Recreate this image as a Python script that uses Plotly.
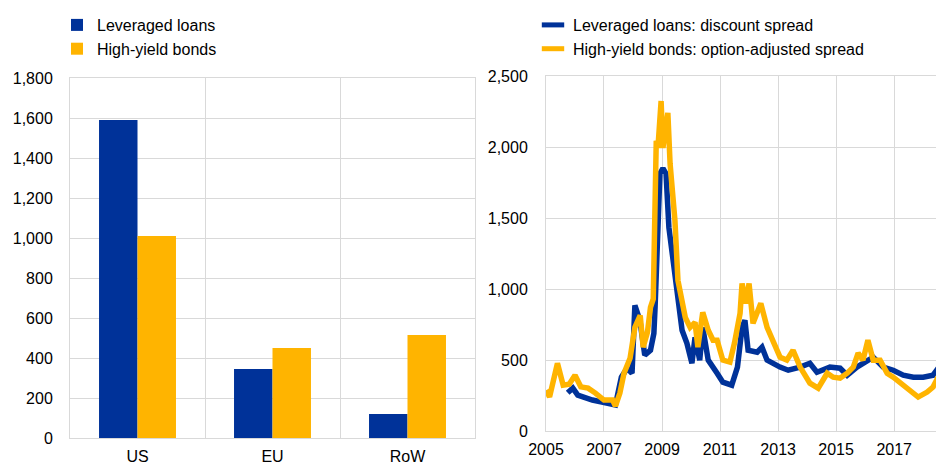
import plotly.graph_objects as go

# left panel: outstanding amounts by region
regions = ['US', 'EU', 'RoW']
loans_amt = [1590, 345, 120]
bonds_amt = [1010, 450, 515]

# right panel: spreads (basis points)
loan_dates = ['2005-10-01', '2005-12-05', '2006-02-05', '2006-05-08', '2006-08-08', '2006-12-05',
              '2007-05-25', '2007-08-08', '2007-10-20', '2007-12-20', '2008-01-25', '2008-03-28',
              '2008-05-28', '2008-08-08', '2008-09-20', '2008-10-05', '2008-11-10', '2008-12-05',
              '2009-01-12', '2009-02-20', '2009-03-28', '2009-06-12', '2009-07-20', '2009-09-10',
              '2009-11-10', '2010-01-12', '2010-02-20', '2010-04-20', '2010-05-28', '2010-08-05',
              '2010-11-25', '2011-02-05', '2011-05-28', '2011-08-08', '2011-10-05', '2011-11-10',
              '2011-12-20', '2012-04-12', '2012-06-12', '2012-08-15', '2013-01-25', '2013-05-08',
              '2013-10-05', '2014-02-05', '2014-05-05', '2014-10-15', '2015-02-20', '2015-05-20',
              '2015-09-20', '2016-01-25', '2016-04-12', '2016-08-15', '2016-12-20', '2017-04-25',
              '2017-08-30', '2018-01-01', '2018-05-05', '2018-07-08', '2018-09-20']
loan_spread = [269, 302, 253, 232, 218, 204,
               183, 379, 442, 407, 885, 779,
               534, 569, 688, 871, 1573, 1812,
               1850, 1812, 1433, 1100, 969, 709,
               618, 477, 660, 499, 730, 499,
               407, 344, 323, 450, 730, 779,
               569, 555, 590, 499, 450, 428,
               450, 477, 414, 450, 442, 393,
               450, 499, 520, 450, 428, 393,
               379, 379, 393, 442, 414]

bond_dates = ['2005-01-03', '2005-02-15', '2005-05-25', '2005-08-05', '2005-10-20', '2006-01-01',
              '2006-03-15', '2006-06-15', '2006-09-15', '2007-01-01', '2007-04-20', '2007-05-25',
              '2007-07-20', '2007-09-10', '2007-11-25', '2008-01-25', '2008-04-01', '2008-05-08',
              '2008-07-01', '2008-08-08', '2008-09-12', '2008-10-05', '2008-10-20', '2008-11-10',
              '2008-12-20', '2009-01-12', '2009-03-15', '2009-04-12', '2009-06-12', '2009-07-20',
              '2009-10-20', '2009-12-20', '2010-02-20', '2010-03-28', '2010-05-28', '2010-08-05',
              '2010-10-05', '2010-11-25', '2011-02-05', '2011-05-05', '2011-07-01', '2011-09-10',
              '2011-10-05', '2011-11-25', '2012-01-01', '2012-02-20', '2012-05-28', '2012-08-15',
              '2012-11-25', '2013-01-25', '2013-04-20', '2013-07-08', '2013-10-05', '2014-02-05',
              '2014-05-20', '2014-09-10', '2014-11-25', '2015-02-20', '2015-05-20', '2015-08-05',
              '2015-10-05', '2015-12-05', '2016-02-05', '2016-04-12', '2016-07-08', '2016-10-05',
              '2016-12-20', '2017-03-15', '2017-06-15', '2017-10-30', '2018-02-20', '2018-05-05',
              '2018-07-08', '2018-09-20']
bond_spread = [288, 240, 477, 323, 330, 393,
               311, 302, 267, 218, 218, 176,
               267, 407, 512, 730, 814, 590,
               695, 871, 930, 1482, 2044, 1994,
               2324, 1994, 2240, 1882, 1482, 1060,
               800, 730, 765, 590, 836, 709,
               639, 639, 499, 485, 618, 829,
               1039, 899, 1039, 758, 899, 730,
               590, 520, 499, 569, 450, 337,
               302, 407, 379, 372, 407, 450,
               548, 499, 639, 499, 499, 407,
               379, 344, 302, 239, 274, 309,
               379, 360]

BLUE = '#003299'
YELLOW = '#ffb400'
GRID = '#d9d9d9'
FONT = dict(family='Liberation Sans, Arial, sans-serif', size=16, color='#000000')
# the page puts the figure 8px in from the top-left corner
W, H = 936, 455


def px_x(p):
    return (p - 8) / W


def px_y(p):
    return (H - (p - 8)) / H


fig = go.Figure()

fig.add_trace(go.Bar(x=[0, 1, 2], y=loans_amt, name='Leveraged loans',
                     marker=dict(color=BLUE, line_width=0), legend='legend'))
fig.add_trace(go.Bar(x=[0, 1, 2], y=bonds_amt, name='High-yield bonds',
                     marker=dict(color=YELLOW, line_width=0), legend='legend'))

fig.add_trace(go.Scatter(x=loan_dates, y=loan_spread, mode='lines', showlegend=False,
                         line=dict(color=BLUE, width=5.5), xaxis='x2', yaxis='y2'))
fig.add_trace(go.Scatter(x=bond_dates, y=bond_spread, mode='lines', showlegend=False,
                         line=dict(color=YELLOW, width=5.5), xaxis='x2', yaxis='y2'))

# legend-only entries with short thick dashes, like the original
for name, col in [('Leveraged loans: discount spread', BLUE),
                  ('High-yield bonds: option-adjusted spread', YELLOW)]:
    fig.add_trace(go.Scatter(x=[None], y=[None], mode='markers', name=name, legend='legend2',
                             marker=dict(symbol='line-ew-open', size=16, color=col,
                                         line=dict(color=col, width=5)),
                             xaxis='x2', yaxis='y2'))

fig.update_layout(
    width=W, height=H,
    margin=dict(l=0, r=0, t=0, b=0, autoexpand=False),
    paper_bgcolor='white', plot_bgcolor='white',
    font=FONT,
    barmode='group', bargap=0.43, bargroupgap=0,
    xaxis=dict(domain=[px_x(70), px_x(475)], range=[-0.5, 2.5], automargin=False,
               tickvals=[0, 1, 2], ticktext=regions, showgrid=False,
               minor=dict(tick0=0.5, dtick=1, showgrid=True, gridcolor=GRID, gridwidth=1),
               showline=True, linecolor=GRID, linewidth=1, mirror=True,
               ticks='', ticklabelstandoff=4, zeroline=False, fixedrange=True),
    yaxis=dict(domain=[px_y(438), px_y(78)], range=[0, 1800], dtick=200, automargin=False,
               tickformat=',', gridcolor=GRID, gridwidth=1,
               showline=True, linecolor=GRID, linewidth=1, mirror=True,
               ticks='', ticklabelstandoff=13, zeroline=False),
    xaxis2=dict(domain=[px_x(546), 1.0], anchor='y2', type='date', automargin=False,
                range=['2005-01-01', '2018-09-20'],
                tickvals=['2005-01-01', '2007-01-01', '2009-01-01', '2011-01-01',
                          '2013-01-01', '2015-01-01', '2017-01-01'],
                tickformat='%Y', gridcolor=GRID, gridwidth=1,
                showline=True, linecolor=GRID, linewidth=1, mirror=True,
                ticks='', ticklabelstandoff=4, zeroline=False),
    yaxis2=dict(domain=[px_y(431), px_y(76)], anchor='x2', range=[0, 2500], dtick=500,
                automargin=False,
                tickformat=',', gridcolor=GRID, gridwidth=1,
                showline=True, linecolor=GRID, linewidth=1, mirror=True,
                ticks='', ticklabelstandoff=14, zeroline=False),
    legend=dict(x=49 / W, y=1.0, xanchor='left', yanchor='top', bgcolor='rgba(0,0,0,0)',
                font=FONT, traceorder='normal'),
    legend2=dict(x=525 / W, y=1.0, xanchor='left', yanchor='top', bgcolor='rgba(0,0,0,0)',
                 font=FONT, traceorder='normal'),
)

fig.write_html('out.html')
